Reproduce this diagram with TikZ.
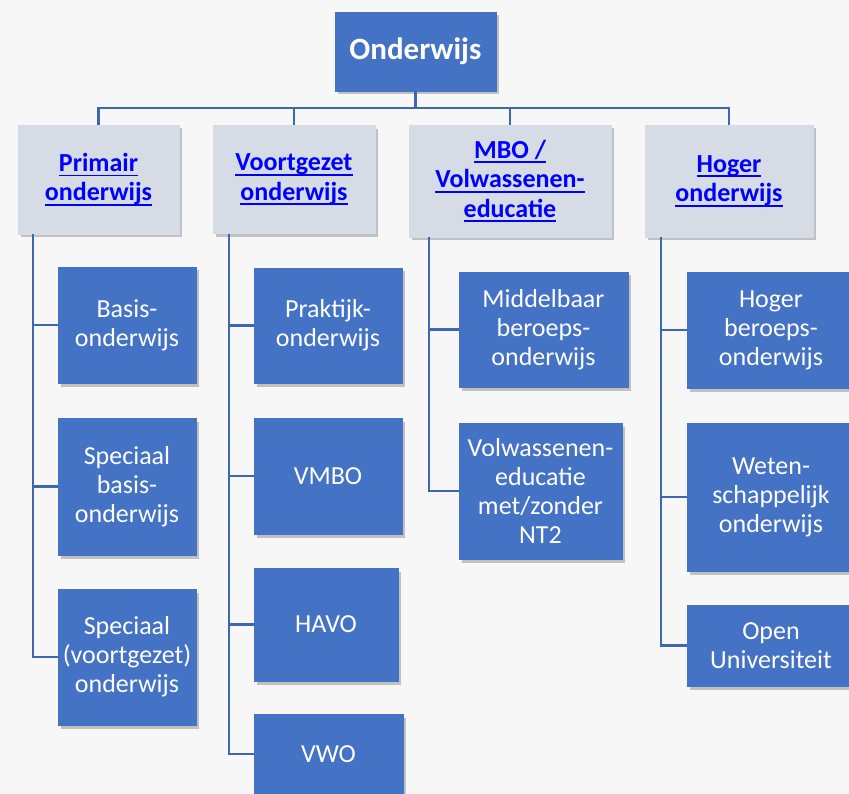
\documentclass[tikz,border=0pt]{standalone}
\usepackage{fontspec}
\setmainfont{Carlito}
\usetikzlibrary{shadows}

\definecolor{boxblue}{HTML}{4472C4}
\definecolor{kopgrijs}{HTML}{D6DCE5}
\definecolor{linkblue}{HTML}{0000FF}
\definecolor{achtergrond}{HTML}{F7F7F7}

\newcommand{\lnk}[1]{\setbox0=\hbox{#1}\rlap{\rule[-5pt]{\wd0}{1.8pt}}\box0}

\begin{document}
\begin{tikzpicture}[x=1pt,y=-1pt,
    blok/.style={fill=boxblue, draw=boxblue, text=white, align=center, inner sep=0pt,
        drop shadow={shadow xshift=2.5pt, shadow yshift=-3.5pt, opacity=0.45},
        font=\fontsize{26}{29}\selectfont},
    kop/.style={blok, fill=kopgrijs, draw=kopgrijs, text=linkblue,
        font=\fontsize{26}{29.5}\selectfont\bfseries},
    lijn/.style={draw=boxblue!90!black, line width=2.4pt}]
    \useasboundingbox (0,0) rectangle (849,794);
    \clip (0,0) rectangle (849,794);
    \fill[achtergrond] (0,0) rectangle (849,794);

    \node[blok, minimum width=161pt, minimum height=79pt, font=\fontsize{31}{34}\selectfont\bfseries]
        (top) at (415.5,51.5) {Onderwijs};

    \node[kop, minimum width=161pt, minimum height=109pt] (prim) at (98.5,179.5) {\lnk{Primair}\\\lnk{onderwijs}};
    \node[kop, minimum width=162pt, minimum height=108pt] (voort) at (294,179.5) {\lnk{Voortgezet}\\\lnk{onderwijs}};
    \node[kop, minimum width=202pt, minimum height=112pt] (mbo) at (510,181) {\lnk{MBO /}\\\lnk{Volwassenen-}\\\lnk{educatie}};
    \node[kop, minimum width=168pt, minimum height=112pt] (hoger) at (729,181) {\lnk{Hoger}\\\lnk{onderwijs}};

    \node[blok, minimum width=138pt, minimum height=116pt] (basis) at (127,325) {Basis-\\onderwijs};
    \node[blok, minimum width=138pt, minimum height=137pt] (specb) at (127,486.5) {Speciaal\\basis-\\onderwijs};
    \node[blok, minimum width=138pt, minimum height=136pt] (specv) at (127,657) {Speciaal\\(voortgezet)\\onderwijs};

    \node[blok, minimum width=148pt, minimum height=115pt] (prakt) at (328,325.5) {Praktijk-\\onderwijs};
    \node[blok, minimum width=148pt, minimum height=116pt] (vmbo) at (328,476) {VMBO};
    \node[blok, minimum width=144pt, minimum height=113pt] (havo) at (326,624.5) {HAVO};
    \node[blok, minimum width=149pt, minimum height=80pt] (vwo) at (328.5,754) {VWO};

    \node[blok, minimum width=169pt, minimum height=115pt] (middel) at (543.5,329.5) {Middelbaar\\beroeps-\\onderwijs};
    \node[blok, minimum width=163pt, minimum height=136pt] (volw) at (540.5,491) {Volwassenen-\\educatie\\met/zonder\\NT2};

    \node[blok, minimum width=168pt, minimum height=116pt] (hbo) at (771,330) {Hoger\\beroeps-\\onderwijs};
    \node[blok, minimum width=168pt, minimum height=148pt] (weten) at (771,497) {Weten-\\schappelijk\\onderwijs};
    \node[blok, minimum width=168pt, minimum height=81pt] (open) at (771,645.5) {Open\\Universiteit};

    \foreach \k in {prim,voort,mbo,hoger}
        \draw[lijn] (top.south) -- ++(0,17) -| (\k.north);

    \foreach \k in {basis,specb,specv}
        \draw[lijn] ([xshift=15pt]prim.south west) |- (\k.west);
    \foreach \k in {prakt,vmbo,havo,vwo}
        \draw[lijn] ([xshift=16pt]voort.south west) |- (\k.west);
    \foreach \k in {middel,volw}
        \draw[lijn] ([xshift=20pt]mbo.south west) |- (\k.west);
    \foreach \k in {hbo,weten,open}
        \draw[lijn] ([xshift=16pt]hoger.south west) |- (\k.west);
\end{tikzpicture}
\end{document}
